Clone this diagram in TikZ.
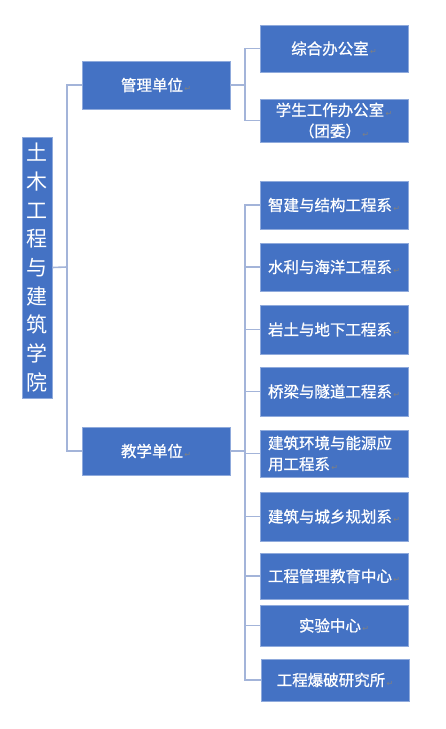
\documentclass[tikz,border=0pt]{standalone}
\usepackage{fontspec}
\newfontfamily\cjk{Noto Sans CJK SC}
\newfontfamily\cjkbox[FakeBold=0.8]{Noto Sans CJK SC}
\newfontfamily\symfont{DejaVu Sans}
\usetikzlibrary{%
  positioning,%
  calc,%
}
\definecolor{unitblue}{HTML}{4472C4}
\definecolor{unitedge}{HTML}{8FAADC}
\definecolor{linkgray}{HTML}{A3B4D9}
\newcommand{\pmark}{{\symfont\fontsize{8}{8}\selectfont\color{gray}\,\raisebox{-0.1ex}{↵}}}
\tikzset{
  x=1pt, y=-1pt,
  unit/.style={draw=unitedge, line width=0.8pt, fill=unitblue, text=white,
    font=\cjkbox\fontsize{15.5}{21}\selectfont, inner sep=0pt, align=center},
  root/.style={unit, minimum width=30, minimum height=261,
    font=\cjk\fontsize{21}{28.7}\selectfont},
  mid/.style={unit, minimum width=148, minimum height=48},
  leaf/.style={unit, minimum width=148},
  link/.style={draw=linkgray, line width=1.6pt},
}

\begin{document}
\begin{tikzpicture}
        \useasboundingbox (0,0) rectangle (446,729);
        % root and the two units
        \node[root] (college) at (37,267.5) {土\\木\\工\\程\\与\\建\\筑\\学\\院};
        \node[mid] (admin) at (156,85) {管理单位\pmark};
        \node[mid] (teach) at (156,451) {教学单位\pmark};
        % offices
        \node[leaf, minimum height=47] (office) at (334,48.5) {综合办公室\pmark};
        \node[leaf, minimum height=43] (student) at (334,120.5) {学生工作办公室\pmark\\（团委）\pmark};
        % departments
        \node[leaf, minimum height=48] (dep1) at (334,205) {智建与结构工程系\pmark};
        \node[leaf, minimum height=48] (dep2) at (334,267) {水利与海洋工程系\pmark};
        \node[leaf, minimum height=49] (dep3) at (334,329.5) {岩土与地下工程系\pmark};
        \node[leaf, minimum height=49] (dep4) at (334,391.5) {桥梁与隧道工程系\pmark};
        \node[leaf, minimum height=47, align=left, text width=132] (dep5) at (334,453.5) {建筑环境与能源应\\用工程系\pmark};
        \node[leaf, minimum height=49] (dep6) at (334,516.5) {建筑与城乡规划系\pmark};
        \node[leaf, minimum height=46] (dep7) at (334,576) {工程管理教育中心\pmark};
        \node[leaf, minimum height=41] (dep8) at (334,625.5) {实验中心\pmark};
        \node[leaf, minimum height=42] (dep9) at (335,680) {工程爆破研究所\pmark};
        % connectors
        \coordinate (trunk) at (67,267);
        \coordinate (busA) at (245,85);
        \coordinate (busB) at (245,451);
        \draw[link] (college.east) -- (trunk);
        \draw[link] (admin.west) -| (trunk);
        \draw[link] (teach.west) -| (trunk);
        \draw[link] (admin.east) -- (busA);
        \foreach \n in {office,student}
          \draw[link] (\n.west) -| (busA);
        \draw[link] (teach.east) -- (busB);
        \foreach \n in {dep1,dep2,dep3,dep4,dep5,dep6,dep7,dep8,dep9}
          \draw[link] (\n.west) -| (busB);
\end{tikzpicture}
\end{document}
